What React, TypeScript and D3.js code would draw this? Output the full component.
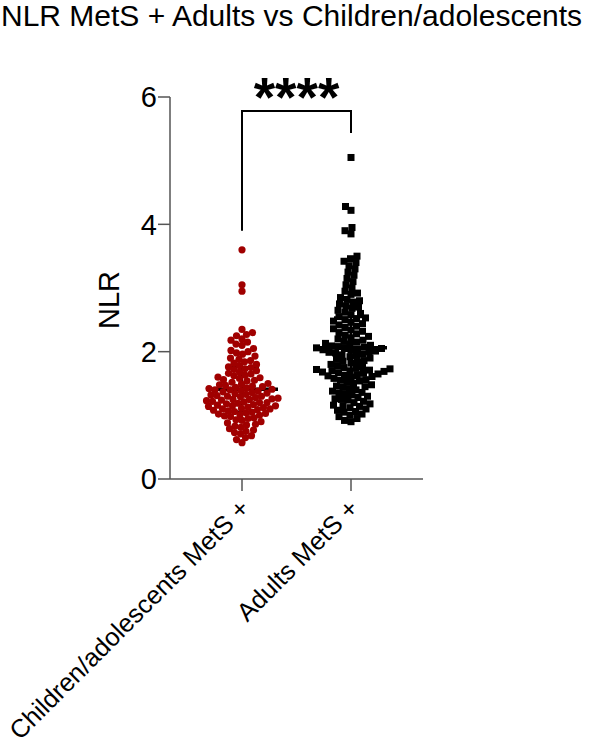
import React from "react";
import * as d3 from "d3";

const categories = ["Children/adolescents MetS +", "Adults MetS +"];
const yTicks = [0, 2, 4, 6];
const title = "NLR MetS + Adults vs Children/adolescents";
const yLabel = "NLR";
const significance = "****";

const childrenValues = [
  3.6, 3.05, 2.95, 2.35, 2.3, 2.27, 2.25, 2.2, 2.18, 2.15, 2.12, 2.1, 2.05, 2.02, 2.0, 1.98, 1.96, 1.93, 1.9, 1.88,
  1.86, 1.84, 1.82, 1.8, 1.78, 1.76, 1.75, 1.73, 1.72, 1.7, 1.68, 1.66, 1.65, 1.63, 1.62, 1.6, 1.59, 1.58, 1.56,
  1.55, 1.54, 1.52, 1.5, 1.49, 1.48, 1.47, 1.46, 1.45, 1.44, 1.43, 1.42, 1.41, 1.4, 1.4, 1.39, 1.38, 1.37, 1.36,
  1.35, 1.34, 1.33, 1.32, 1.31, 1.3, 1.3, 1.29, 1.28, 1.27, 1.26, 1.25, 1.25, 1.24, 1.23, 1.22, 1.21, 1.2, 1.2,
  1.19, 1.18, 1.17, 1.16, 1.15, 1.15, 1.14, 1.13, 1.12, 1.11, 1.1, 1.1, 1.09, 1.08, 1.07, 1.06, 1.05, 1.04, 1.03,
  1.02, 1.01, 1.0, 0.99, 0.98, 0.96, 0.95, 0.93, 0.92, 0.9, 0.88, 0.86, 0.85, 0.83, 0.81, 0.79, 0.77, 0.75, 0.73,
  0.71, 0.68, 0.65, 0.62, 0.57,
];

const adultValues = [
  5.05, 4.28, 4.22, 3.95, 3.9, 3.85, 3.5, 3.46, 3.42, 3.4, 3.35, 3.3, 3.25, 3.2, 3.15, 3.1, 3.05, 3.0, 2.95, 2.92,
  2.9, 2.85, 2.82, 2.8, 2.78, 2.75, 2.72, 2.7, 2.68, 2.65, 2.62, 2.6, 2.58, 2.55, 2.53, 2.52, 2.5, 2.48, 2.46, 2.44,
  2.42, 2.4, 2.38, 2.36, 2.34, 2.32, 2.3, 2.28, 2.26, 2.24, 2.22, 2.2, 2.18, 2.16, 2.15, 2.13, 2.12, 2.1, 2.09,
  2.08, 2.07, 2.06, 2.05, 2.05, 2.04, 2.03, 2.02, 2.01, 2.0, 1.99, 1.98, 1.96, 1.95, 1.94, 1.92, 1.9, 1.88, 1.86,
  1.85, 1.84, 1.82, 1.8, 1.78, 1.76, 1.75, 1.74, 1.73, 1.72, 1.71, 1.7, 1.7, 1.69, 1.68, 1.67, 1.66, 1.65, 1.64,
  1.63, 1.62, 1.61, 1.6, 1.58, 1.56, 1.55, 1.54, 1.52, 1.5, 1.48, 1.46, 1.45, 1.44, 1.42, 1.4, 1.38, 1.36, 1.35,
  1.34, 1.32, 1.3, 1.28, 1.26, 1.25, 1.24, 1.22, 1.2, 1.18, 1.16, 1.15, 1.14, 1.12, 1.1, 1.08, 1.06, 1.05, 1.02,
  1.0, 0.98, 0.95, 0.92, 0.9,
];

const groupMeans = [1.41, 2.06];
const groupSDs = [0.35, 0.48];
const groupColors = ["#a00000", "#000000"];

const W = 595;
const H = 752;
const FONT = "'Liberation Sans', Arial, sans-serif";

function swarm(values: number[], y: (v: number) => number, d: number) {
  const placed: { x: number; y: number; v: number }[] = [];
  const sorted = [...values].sort((a, b) => a - b);
  for (const v of sorted) {
    const py = y(v);
    let best = 0;
    for (let k = 0; k < 400; k++) {
      const off = (k % 2 === 0 ? 1 : -1) * Math.ceil(k / 2) * 0.5;
      let ok = true;
      for (const p of placed) {
        const dx = p.x - off;
        const dy = p.y - py;
        if (dx * dx + dy * dy < d * d) {
          ok = false;
          break;
        }
      }
      if (ok) {
        best = off;
        break;
      }
    }
    placed.push({ x: best, y: py, v });
  }
  return placed;
}

export default function App() {
  const y = d3.scaleLinear().domain([0, 6]).range([479, 97]);
  const x = d3.scalePoint<string>().domain(categories).range([242, 351]);
  const axisLeft = 170;
  const axisRight = 423;

  const childPts = swarm(childrenValues, y, 6.0);
  const adultPts = swarm(adultValues, y, 6.4);

  const cx0 = x(categories[0])!;
  const cx1 = x(categories[1])!;

  return (
    <div style={{ position: "absolute", left: 0, top: 0 }}>
      <svg width={W} height={H} style={{ display: "block", background: "#fff" }}>
        <text x={1} y={26} fontFamily={FONT} fontSize={30} fill="#000">
          {title}
        </text>

        {/* y axis */}
        <line x1={axisLeft} x2={axisLeft} y1={y(6)} y2={y(0)} stroke="#555" strokeWidth={1.5} />
        {yTicks.map((t) => (
          <g key={t}>
            <line x1={axisLeft - 12} x2={axisLeft} y1={y(t)} y2={y(t)} stroke="#555" strokeWidth={1.5} />
            <text
              x={axisLeft - 13}
              y={y(t)}
              dy="0.36em"
              textAnchor="end"
              fontFamily={FONT}
              fontSize={29}
              fill="#000"
            >
              {t}
            </text>
          </g>
        ))}
        <text
          transform={`translate(119, 300) rotate(-90)`}
          textAnchor="middle"
          fontFamily={FONT}
          fontSize={29}
          fill="#000"
        >
          {yLabel}
        </text>

        {/* x axis */}
        <line x1={axisLeft} x2={axisRight} y1={y(0)} y2={y(0)} stroke="#555" strokeWidth={1.5} />
        {categories.map((c) => (
          <g key={c}>
            <line x1={x(c)!} x2={x(c)!} y1={y(0)} y2={y(0) + 12} stroke="#555" strokeWidth={1.5} />
            <text
              transform={`translate(${x(c)! + 9}, ${y(0) + 31}) rotate(-45)`}
              textAnchor="end"
              fontFamily={FONT}
              fontSize={25.5}
              fill="#000"
            >
              {c}
            </text>
          </g>
        ))}

        {/* mean & SD lines */}
        {[0, 1].map((i) => {
          const cx = i === 0 ? cx0 : cx1;
          const m = groupMeans[i];
          const s = groupSDs[i];
          return (
            <g key={i} stroke="#000">
              <line x1={cx} x2={cx} y1={y(m + s)} y2={y(m - s)} strokeWidth={2} />
              <line x1={cx - 36} x2={cx + 36} y1={y(m)} y2={y(m)} strokeWidth={3.5} />
              <line x1={cx - 17} x2={cx + 17} y1={y(m + s)} y2={y(m + s)} strokeWidth={2} />
              <line x1={cx - 17} x2={cx + 17} y1={y(m - s)} y2={y(m - s)} strokeWidth={2} />
            </g>
          );
        })}

        {/* points */}
        {childPts.map((p, i) => (
          <circle key={"c" + i} cx={cx0 + p.x} cy={p.y} r={3.6} fill={groupColors[0]} />
        ))}
        {adultPts.map((p, i) => (
          <rect
            key={"a" + i}
            x={cx1 + p.x - 3.5}
            y={p.y - 3.5}
            width={7}
            height={7}
            fill={groupColors[1]}
          />
        ))}

        {/* significance bracket */}
        <path
          d={`M${cx0},${y(3.9)} V111 H${cx1} V133`}
          fill="none"
          stroke="#000"
          strokeWidth={2}
        />
        <text
          x={(cx0 + cx1) / 2}
          y={116}
          textAnchor="middle"
          fontFamily={FONT}
          fontWeight="bold"
          fontSize={55}
          fill="#000"
        >
          {significance}
        </text>
      </svg>
    </div>
  );
}
